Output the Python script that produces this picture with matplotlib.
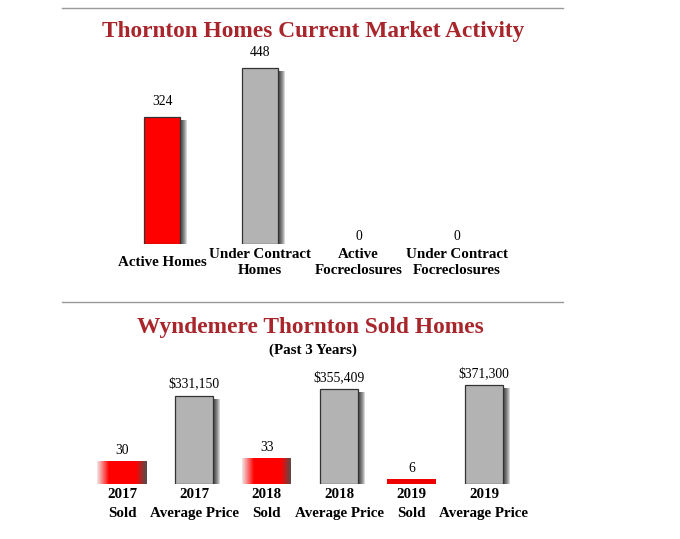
import matplotlib
matplotlib.use("Agg")
import matplotlib.pyplot as plt
import numpy as np

# --- data ---
top_title = "Thornton Homes Current Market Activity"
top_labels = ["Active Homes", "Under Contract\nHomes", "Active\nFocreclosures", "Under Contract\nFocreclosures"]
top_values = [324, 448, 0, 0]
top_colors = ["#ff0000", "#b3b3b3", "#ff0000", "#b3b3b3"]

bot_title = "Wyndemere Thornton Sold Homes"
bot_subtitle = "(Past 3 Years)"
years = ["2017", "2018", "2019"]
sold_counts = [30, 33, 6]
avg_prices = [331150, 355409, 371300]

W, H = 680, 539
TITLE_RED = "#a8262b"
SERIF = "Liberation Serif"

plt.rcParams["font.family"] = [SERIF, "DejaVu Serif"]

fig = plt.figure(figsize=(W / 100, H / 100), dpi=100)


def frac(x, y):
    # pixel (from top-left) -> figure fraction
    return x / W, 1 - y / H


def make_ax(left, base, width, height):
    ax = fig.add_axes([left / W, 1 - base / H, width / W, height / H])
    ax.set_axis_off()
    return ax


def shadow(ax, x, h, w, pxx, pxy, n=7):
    # soft drop shadow to the right of a bar
    if h <= 0:
        return
    for k in range(1, n + 1):
        ax.bar(x + k * pxx, max(h - 3 * pxy, 0), w, color="black",
               alpha=0.16, linewidth=0, zorder=1)


def mix(c1, c2, t):
    c1 = np.array(matplotlib.colors.to_rgb(c1))
    c2 = np.array(matplotlib.colors.to_rgb(c2))
    return tuple(c1 + (c2 - c1) * t)


def grad_bar(ax, x, h, w_px, pxx, color="#ff0000"):
    # red bar with blurred edges (light on the left, dark on the right)
    left = x - w_px / 2 * pxx
    for i in range(w_px):
        if i < 12:
            c = mix("#f3e8e8", color, (i + 0.5) / 12)
        elif i >= w_px - 10:
            c = mix(color, "#5a4a4a", (i - (w_px - 10) + 0.5) / 10)
        else:
            c = color
        ax.bar(left + (i + 0.5) * pxx, h, pxx * 1.08, color=c, linewidth=0, zorder=2)


# separator lines
for yy in (8, 302):
    fig.add_artist(plt.Line2D([62 / W, 563 / W], [1 - yy / H] * 2,
                              color="#999999", linewidth=1))

# ---------------- top chart ----------------
fig.text(*frac(313, 32), top_title, ha="center", va="center", fontsize=16.8,
         fontweight="bold", color=TITLE_RED)

ax1 = make_ax(113, 244, 393, 500 * 0.393)
ax1.set_xlim(-0.5, 3.5)
ax1.set_ylim(0, 500)
pxx1 = 4 / 393
pxy1 = 500 / (500 * 0.393)
xs = np.arange(len(top_values))
for x, v, c in zip(xs, top_values, top_colors):
    shadow(ax1, x, v, 36 * pxx1, pxx1, pxy1)
    if v > 0:
        ax1.bar(x, v, 36 * pxx1, color=c, edgecolor="#333333", linewidth=0.9, zorder=2)
    ax1.annotate(str(v), xy=(x, v), xytext=(0, 9 if v > 0 else 1),
                 textcoords="offset pixels", ha="center", va="bottom", fontsize=9.8)
for x, lab in zip(xs, top_labels):
    ax1.annotate(lab, xy=(x, H - 262), xycoords=("data", "figure pixels"),
                 ha="center", va="center", fontsize=10.8, fontweight="bold",
                 linespacing=1.3)

# ---------------- bottom chart ----------------
fig.text(*frac(310, 327), bot_title, ha="center", va="center", fontsize=16.8,
         fontweight="bold", color=TITLE_RED)
fig.text(*frac(313, 350), bot_subtitle, ha="center", va="center", fontsize=10.8,
         fontweight="bold")

price_scale = 0.0002667  # px per dollar
count_scale = 0.78       # px per home
bh = 400000 * price_scale
ax2 = make_ax(85.8, 484, 434.4, bh)
ax2.set_xlim(-0.5, 5.5)
ax2.set_ylim(0, 400000)
ax3 = ax2.twinx()
ax3.set_axis_off()
ax3.set_ylim(0, bh / count_scale)
pxx2 = 6 / 434.4

bot_labels = []
for i, (yr, n, p) in enumerate(zip(years, sold_counts, avg_prices)):
    xs_ = 2 * i
    xp = 2 * i + 1
    # sold count bar
    if n * count_scale > 10:
        grad_bar(ax3, xs_, n, 49, pxx2)
    else:
        ax3.bar(xs_, n, 49 * pxx2, color="#ee0000", linewidth=0, zorder=2)
    ax3.annotate(str(n), xy=(xs_, n), xytext=(0, 4), textcoords="offset pixels",
                 ha="center", va="bottom", fontsize=9.8)
    # average price bar
    shadow(ax2, xp, p, 38 * pxx2, pxx2, 1 / price_scale)
    ax2.bar(xp, p, 38 * pxx2, color="#b3b3b3", edgecolor="#333333",
            linewidth=0.9, zorder=2)
    ax2.annotate(f"${p:,}", xy=(xp, p), xytext=(0, 5), textcoords="offset pixels",
                 ha="center", va="bottom", fontsize=9.8)
    bot_labels += [f"{yr}\nSold", f"{yr}\nAverage Price"]

for i, lab in enumerate(bot_labels):
    ax2.annotate(lab, xy=(i, H - 504), xycoords=("data", "figure pixels"),
                 ha="center", va="center", fontsize=10.8, fontweight="bold",
                 linespacing=1.55)

fig.savefig("out.png", dpi=100)
